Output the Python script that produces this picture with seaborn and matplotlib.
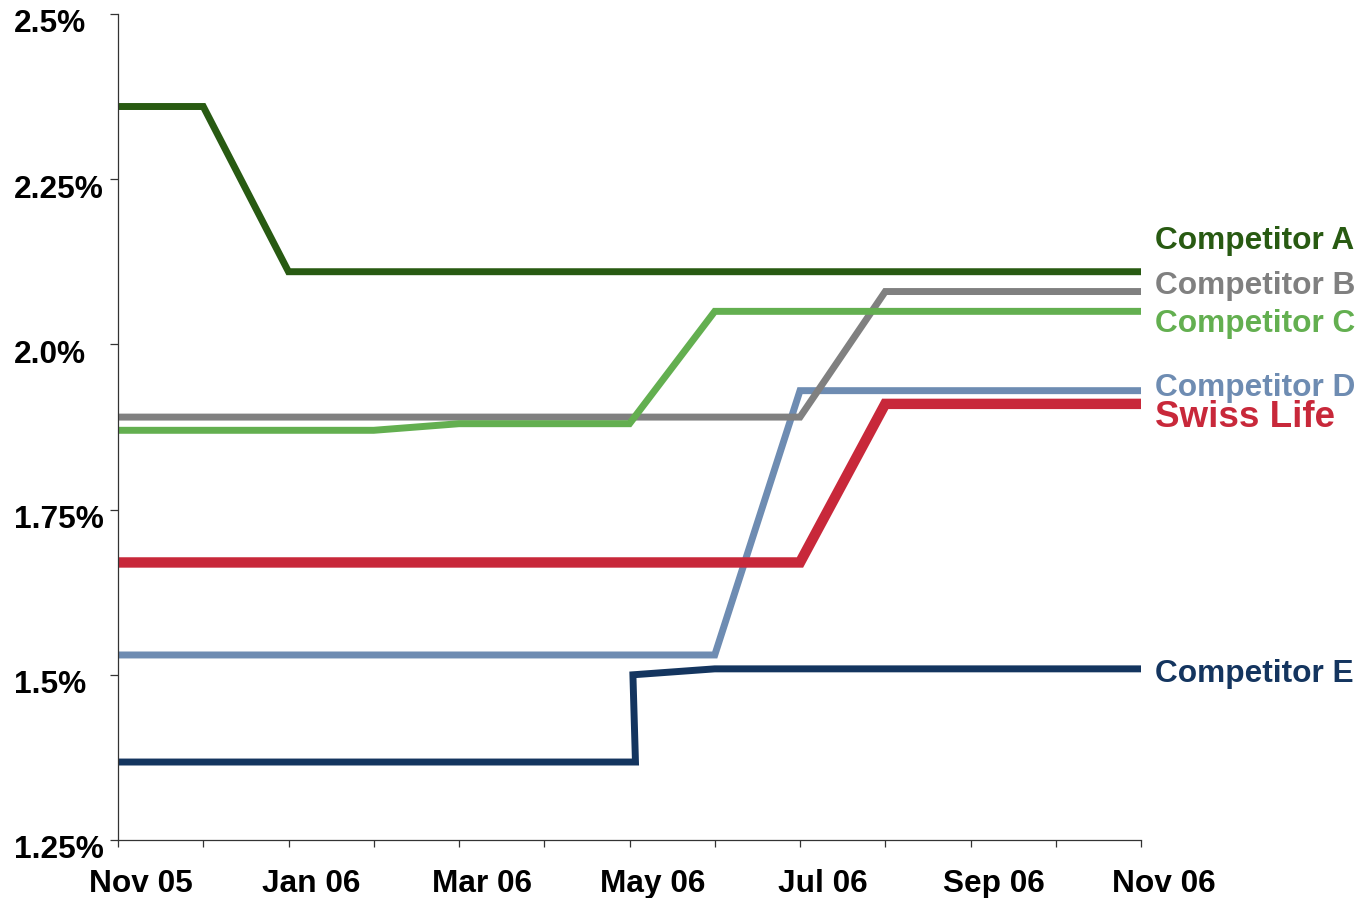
import matplotlib
matplotlib.use('Agg')
import matplotlib.pyplot as plt
import matplotlib.transforms as mtransforms
import seaborn as sns
import pandas as pd

# monthly points, Nov 05 .. Nov 06
months = ['Nov 05', 'Dec 05', 'Jan 06', 'Feb 06', 'Mar 06', 'Apr 06', 'May 06',
          'Jun 06', 'Jul 06', 'Aug 06', 'Sep 06', 'Oct 06', 'Nov 06']
month_idx = list(range(len(months)))
xtick_labels = ['Nov 05', '', 'Jan 06', '', 'Mar 06', '', 'May 06', '',
                'Jul 06', '', 'Sep 06', '', 'Nov 06']

comp_a = [2.36, 2.36, 2.11, 2.11, 2.11, 2.11, 2.11, 2.11, 2.11, 2.11, 2.11, 2.11, 2.11]
comp_b = [1.89, 1.89, 1.89, 1.89, 1.89, 1.89, 1.89, 1.89, 1.89, 2.08, 2.08, 2.08, 2.08]
comp_c = [1.87, 1.87, 1.87, 1.87, 1.88, 1.88, 1.88, 2.05, 2.05, 2.05, 2.05, 2.05, 2.05]
comp_d = [1.53, 1.53, 1.53, 1.53, 1.53, 1.53, 1.53, 1.53, 1.93, 1.93, 1.93, 1.93, 1.93]
swiss_life = [1.67, 1.67, 1.67, 1.67, 1.67, 1.67, 1.67, 1.67, 1.67, 1.91, 1.91, 1.91, 1.91]
# competitor E has an extra change right after May 06
comp_e_x = [0, 1, 2, 3, 4, 5, 6, 6.07, 6.04, 7, 8, 9, 10, 11, 12]
comp_e = [1.368, 1.368, 1.368, 1.368, 1.368, 1.368, 1.368, 1.368, 1.50,
          1.509, 1.509, 1.509, 1.509, 1.509, 1.509]

series_names = ['Competitor A', 'Competitor B', 'Competitor C', 'Competitor D',
                'Swiss Life', 'Competitor E']
series_colors = ['#285A12', '#808080', '#63AF50', '#6E8CB2', '#C8283A', '#14355F']
label_y = [2.156, 2.089, 2.031, 1.934, 1.889, 1.501]

yticks = [1.25, 1.5, 1.75, 2.0, 2.25, 2.5]
ytick_labels = ['1.25%', '1.5%', '1.75%', '2.0%', '2.25%', '2.5%']

sns.set_style('white')
plt.rcParams['font.family'] = ['Liberation Sans', 'DejaVu Sans']
plt.rcParams['font.weight'] = 'bold'

fig = plt.figure(figsize=(13.61, 8.98), dpi=100)
ax = fig.add_axes([118 / 1361, 1 - 840 / 898, (1141 - 118) / 1361, (840 - 14) / 898])

frames = []
for name, xs, ys in [('Competitor A', month_idx, comp_a),
                     ('Competitor B', month_idx, comp_b),
                     ('Competitor C', month_idx, comp_c),
                     ('Competitor D', month_idx, comp_d),
                     ('Swiss Life', month_idx, swiss_life),
                     ('Competitor E', comp_e_x, comp_e)]:
    frames.append(pd.DataFrame({'x': xs, 'rate': ys, 'series': name}))
df = pd.concat(frames, ignore_index=True)

draw_order = ['Competitor D', 'Competitor E', 'Competitor B', 'Competitor C',
              'Swiss Life', 'Competitor A']
for name in draw_order:
    i = series_names.index(name)
    sns.lineplot(data=df[df['series'] == name], x='x', y='rate', sort=False,
                 estimator=None, color=series_colors[i],
                 linewidth=7.5 if name == 'Swiss Life' else 5,
                 solid_joinstyle='miter', ax=ax)

for name, color, ly in zip(series_names, series_colors, label_y):
    ax.text(12.17, ly, name, color=color, fontweight='bold',
            fontsize=26.5 if name == 'Swiss Life' else 22.8,
            ha='left', va='center', clip_on=False)

ax.set_xlim(0, 12)
ax.set_ylim(1.25, 2.5)
ax.set_xlabel('')
ax.set_ylabel('')
for side in ['top', 'right']:
    ax.spines[side].set_visible(False)
for side in ['left', 'bottom']:
    ax.spines[side].set_color('#333333')
    ax.spines[side].set_linewidth(0.9)

ax.set_xticks(month_idx)
ax.set_xticklabels(xtick_labels, fontsize=22.8, fontweight='bold', color='black')
ax.set_yticks(yticks)
ax.set_yticklabels(ytick_labels, fontsize=22.8, fontweight='bold', color='black')
ax.tick_params(axis='x', direction='out', length=5, width=0.9, color='#333333',
               pad=16, bottom=True)
ax.tick_params(axis='y', direction='out', length=6, width=0.9, color='#333333',
               left=True)

# x labels sit a little right of their ticks
xoff = mtransforms.ScaledTranslation(23 / 100, 0, fig.dpi_scale_trans)
for lab in ax.get_xticklabels():
    lab.set_transform(lab.get_transform() + xoff)

# y labels are left aligned at the figure edge
ytrans = mtransforms.blended_transform_factory(fig.transFigure, ax.transData) + \
    mtransforms.ScaledTranslation(0, -7 / 100, fig.dpi_scale_trans)
for lab in ax.get_yticklabels():
    lab.set_transform(ytrans)
    lab.set_x(14 / 1361)
    lab.set_horizontalalignment('left')

fig.savefig('out.png', dpi=100, facecolor='white')
